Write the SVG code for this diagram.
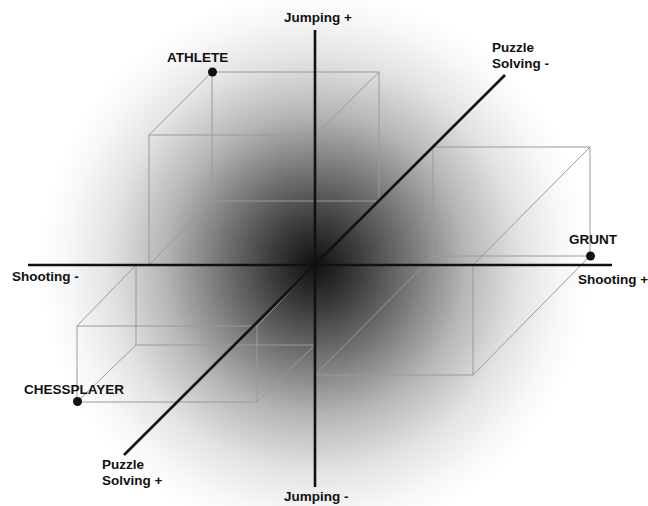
<svg xmlns="http://www.w3.org/2000/svg" width="648" height="506" viewBox="0 0 648 506">
  <defs>
    <radialGradient id="glow" gradientUnits="userSpaceOnUse" cx="315" cy="265" r="275">
      <stop offset="0" stop-color="#101010"/>
      <stop offset="0.15" stop-color="#393939"/>
      <stop offset="0.35" stop-color="#777777"/>
      <stop offset="0.55" stop-color="#b6b6b6"/>
      <stop offset="0.75" stop-color="#e3e3e3"/>
      <stop offset="0.9" stop-color="#f7f7f7"/>
      <stop offset="1" stop-color="#ffffff"/>
    </radialGradient>
    <style>
      .edge { fill: none; stroke: #9a9a9a; stroke-width: 1; }
      .axis { fill: none; stroke: #111; stroke-width: 2.6; }
      .dot { fill: #111; }
      .lbl { font-family: "Liberation Sans", Arial, sans-serif; font-weight: bold; font-size: 13.5px; fill: #111; }
    </style>
  </defs>
  <rect x="0" y="0" width="648" height="506" fill="#ffffff"/>
  <rect x="0" y="0" width="648" height="506" fill="url(#glow)"/>

  <g id="connectors">
    <g id="athlete-box">
      <rect class="edge" x="149" y="135" width="166" height="130"/>
      <rect class="edge" x="212" y="72" width="167" height="129"/>
      <line class="edge" x1="149" y1="135" x2="212" y2="72"/>
      <line class="edge" x1="315" y1="135" x2="379" y2="72"/>
      <line class="edge" x1="149" y1="265" x2="212" y2="201"/>
      <line class="edge" x1="315" y1="265" x2="379" y2="201"/>
    </g>
    <g id="grunt-box">
      <rect class="edge" x="315" y="265" width="158" height="110"/>
      <rect class="edge" x="433" y="147" width="157" height="109"/>
      <line class="edge" x1="315" y1="265" x2="433" y2="147"/>
      <line class="edge" x1="473" y1="265" x2="590" y2="147"/>
      <line class="edge" x1="315" y1="375" x2="433" y2="256"/>
      <line class="edge" x1="473" y1="375" x2="590" y2="256"/>
    </g>
    <g id="chessplayer-box">
      <rect class="edge" x="136" y="265" width="179" height="80"/>
      <rect class="edge" x="77" y="326" width="180" height="76"/>
      <line class="edge" x1="136" y1="265" x2="77" y2="326"/>
      <line class="edge" x1="315" y1="265" x2="257" y2="326"/>
      <line class="edge" x1="136" y1="345" x2="77" y2="402"/>
      <line class="edge" x1="315" y1="345" x2="257" y2="402"/>
    </g>
    <line class="axis" x1="315" y1="30" x2="315" y2="487"/>
    <line class="axis" x1="28" y1="265" x2="612" y2="265"/>
    <line class="axis" x1="124" y1="455" x2="505" y2="75"/>
  </g>

  <g id="axis-labels">
    <text class="lbl" x="284" y="21.5">Jumping +</text>
    <text class="lbl" x="284" y="501">Jumping -</text>
    <text class="lbl" x="12" y="281">Shooting -</text>
    <text class="lbl" x="578" y="284">Shooting +</text>
    <text class="lbl" x="492" y="52">Puzzle</text>
    <text class="lbl" x="492" y="67.5">Solving -</text>
    <text class="lbl" x="102" y="468.5">Puzzle</text>
    <text class="lbl" x="102" y="485">Solving +</text>
  </g>

  <g id="athlete">
    <circle class="dot" cx="212.5" cy="72" r="4.5"/>
    <text class="lbl" x="167" y="62">ATHLETE</text>
  </g>
  <g id="grunt">
    <circle class="dot" cx="590.5" cy="256" r="4.5"/>
    <text class="lbl" x="569" y="243.5">GRUNT</text>
  </g>
  <g id="chessplayer">
    <circle class="dot" cx="77.5" cy="401.5" r="4.5"/>
    <text class="lbl" x="24" y="393.5">CHESSPLAYER</text>
  </g>
</svg>
